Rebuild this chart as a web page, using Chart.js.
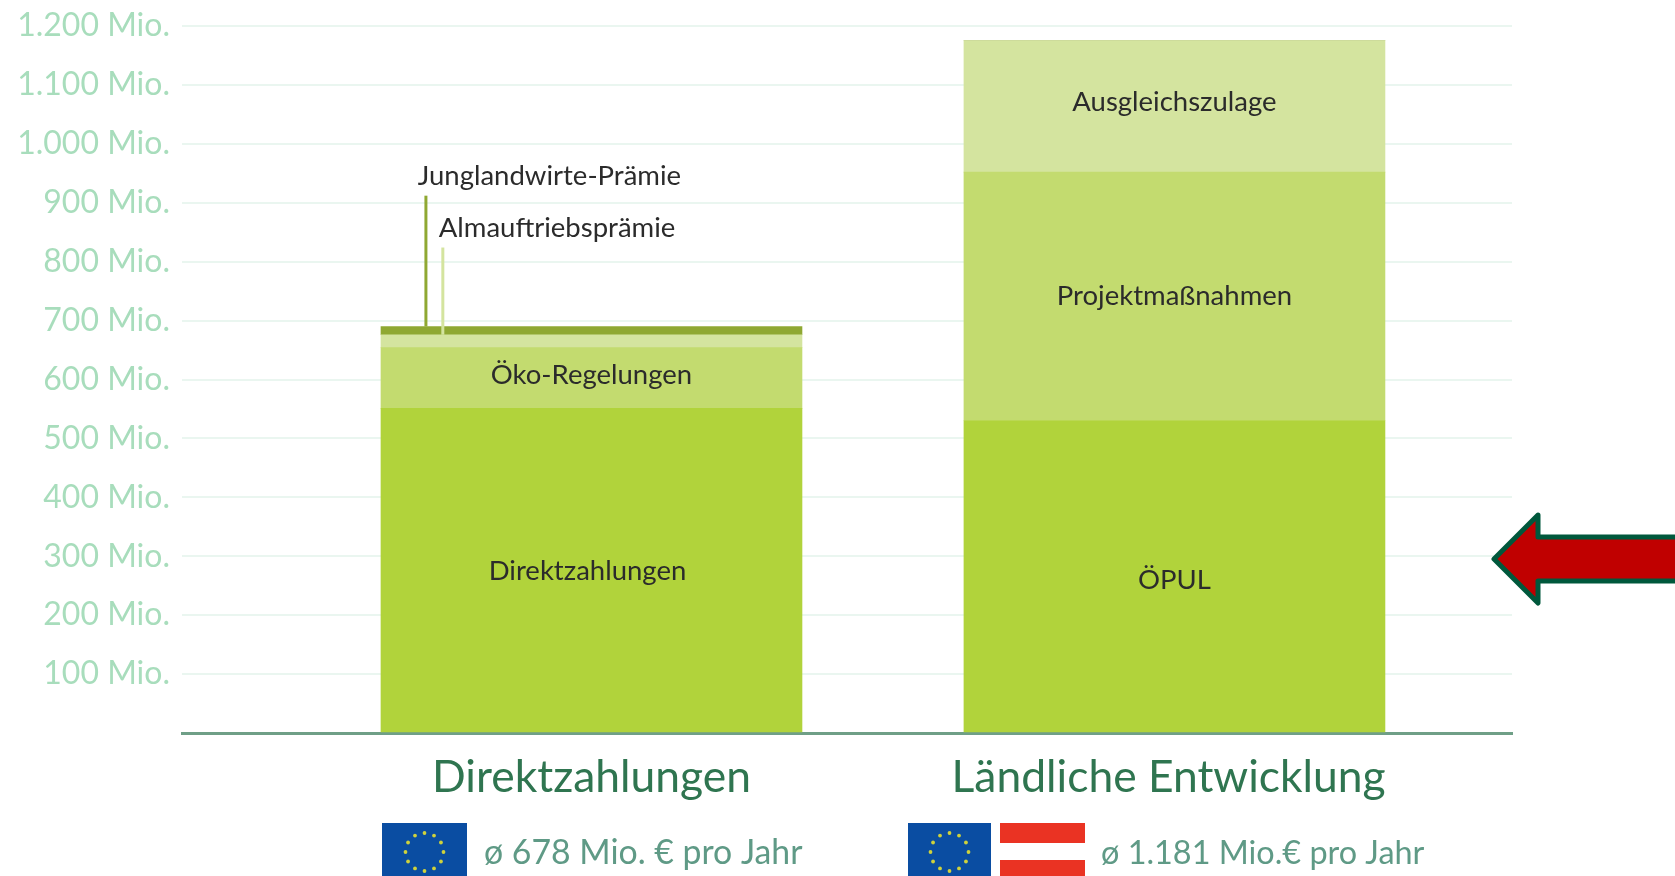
<!DOCTYPE html>
<html>
<head>
<meta charset="utf-8">
<script src="https://cdn.jsdelivr.net/npm/chart.js@4"></script>
<style>
html, body { margin: 0; padding: 0; background: #fff; overflow: hidden; }
canvas { display: block; }
</style>
</head>
<body>
<canvas id="chart" width="1675" height="876"></canvas>
<script>
// values in Mio. Euro
const categories = ["Direktzahlungen", "Ländliche Entwicklung"];
const baseValues = [551, 530];
const midValues = [103, 422];
const lightValues = [22, 223];
const darkValues = [14, 0];

const baseNames = ["Direktzahlungen", "ÖPUL"];
const midNames = ["Öko-Regelungen", "Projektmaßnahmen"];
const lightNames = ["", "Ausgleichszulage"];

const yTicks = [100, 200, 300, 400, 500, 600, 700, 800, 900, 1000, 1100, 1200];
const tickLabels = ["100 Mio.", "200 Mio.", "300 Mio.", "400 Mio.", "500 Mio.", "600 Mio.",
    "700 Mio.", "800 Mio.", "900 Mio.", "1.000 Mio.", "1.100 Mio.", "1.200 Mio."];
const averages = ["ø 678 Mio. € pro Jahr", "ø 1.181 Mio.€ pro Jahr"];

const FONT = "Lato";
const TEXT = "#2b2b2b";

// labels in the reference sit a little off the segment centres
const nudge = {
    "Direktzahlungen": [-4, 1],
    "ÖPUL": [0, 4],
    "Öko-Regelungen": [0, -3],
    "Ausgleichszulage": [0, -4]
};

function points(values) {
    return values.map((v, i) => ({ x: i + 1, y: v }));
}

function drawEuFlag(ctx, x, y, w, h) {
    ctx.fillStyle = "#0A4DA2";
    ctx.fillRect(x, y, w, h);
    ctx.fillStyle = "#CFD23C";
    const cx = x + w / 2, cy = y + 29;
    for (let i = 0; i < 12; i++) {
        let a = i * Math.PI / 6;
        ctx.beginPath();
        ctx.arc(cx + Math.cos(a) * 19, cy + Math.sin(a) * 19, 1.9, 0, Math.PI * 2);
        ctx.fill();
    }
}

const extras = {
    id: "extras",
    afterDatasetsDraw(chart) {
        const ctx = chart.ctx;
        const xs = chart.scales.x, ys = chart.scales.y;
        ctx.save();

        // labels inside the bars
        ctx.font = "27.5px " + FONT;
        ctx.fillStyle = TEXT;
        ctx.textAlign = "center";
        ctx.textBaseline = "middle";
        [baseNames, midNames, lightNames].forEach((names, d) => {
            chart.getDatasetMeta(d).data.forEach((bar, i) => {
                if (!names[i]) return;
                let n = nudge[names[i]] || [0, 0];
                ctx.fillText(names[i], bar.x + n[0], (bar.y + bar.base) / 2 + n[1]);
            });
        });

        // leader lines above the first bar
        const topDark = baseValues[0] + midValues[0] + lightValues[0] + darkValues[0];
        const topLight = baseValues[0] + midValues[0] + lightValues[0];
        ctx.lineWidth = 3;
        ctx.strokeStyle = "#8FA832";
        ctx.beginPath();
        ctx.moveTo(xs.getPixelForValue(0.716), ys.getPixelForValue(912));
        ctx.lineTo(xs.getPixelForValue(0.716), ys.getPixelForValue(topDark));
        ctx.stroke();
        ctx.strokeStyle = "#D4E49F";
        ctx.beginPath();
        ctx.moveTo(xs.getPixelForValue(0.745), ys.getPixelForValue(824));
        ctx.lineTo(xs.getPixelForValue(0.745), ys.getPixelForValue(topLight));
        ctx.stroke();

        ctx.textAlign = "left";
        ctx.fillStyle = TEXT;
        ctx.fillText("Junglandwirte-Prämie", xs.getPixelForValue(0.702), ys.getPixelForValue(946));
        ctx.fillText("Almauftriebsprämie", xs.getPixelForValue(0.738), ys.getPixelForValue(857));

        // flags and averages under the axis
        drawEuFlag(ctx, 382, 823, 85, 60);
        drawEuFlag(ctx, 908, 823, 83, 60);
        ctx.fillStyle = "#EA3323";
        ctx.fillRect(1000, 823, 85, 20);
        ctx.fillRect(1000, 860, 85, 20);
        ctx.fillStyle = "#5F9A86";
        ctx.textBaseline = "alphabetic";
        ctx.font = "33.8px " + FONT;
        ctx.fillText(averages[0], 484, 864);
        ctx.font = "32.4px " + FONT;
        ctx.fillText(averages[1], 1101, 864);

        // red arrow pointing at the axis
        ctx.beginPath();
        ctx.moveTo(1680, 537);
        ctx.lineTo(1538, 537);
        ctx.lineTo(1538, 515);
        ctx.lineTo(1494, 559);
        ctx.lineTo(1538, 603);
        ctx.lineTo(1538, 581);
        ctx.lineTo(1680, 581);
        ctx.closePath();
        ctx.fillStyle = "#C00000";
        ctx.fill();
        ctx.lineWidth = 5;
        ctx.lineJoin = "round";
        ctx.strokeStyle = "#00583C";
        ctx.stroke();
        ctx.restore();
    }
};

new Chart(document.getElementById("chart"), {
    type: "bar",
    data: {
        datasets: [
            { label: "Basis", data: points(baseValues), backgroundColor: "#B1D33B" },
            { label: "Mitte", data: points(midValues), backgroundColor: "#C3DB6F" },
            { label: "Hell", data: points(lightValues), backgroundColor: "#D4E49F" },
            { label: "Dunkel", data: points(darkValues), backgroundColor: "#8FA832" }
        ]
    },
    options: {
        responsive: false,
        animation: false,
        barThickness: 421,
        layout: { padding: { top: 26, right: 163, left: 0, bottom: 0 } },
        plugins: { legend: { display: false }, tooltip: { enabled: false } },
        scales: {
            x: {
                type: "linear",
                offset: false,
                stacked: true,
                min: 0.2976,
                max: 2.579,
                afterFit(scale) { scale.height = 143; },
                afterBuildTicks(scale) { scale.ticks = [{ value: 1 }, { value: 1.99 }]; },
                grid: { display: false, offset: false, drawTicks: false },
                border: { color: "#6F9F87", width: 3 },
                ticks: {
                    autoSkip: false,
                    maxRotation: 0,
                    padding: 18,
                    color: "#2F7550",
                    font: { family: FONT, size: 44.4 },
                    callback: (v, i) => categories[i]
                }
            },
            y: {
                stacked: true,
                min: 0,
                max: 1200,
                afterFit(scale) {
                    scale.width = 182;
                    scale.paddingTop = 0;
                    scale.paddingBottom = 0;
                },
                afterBuildTicks(scale) { scale.ticks = [0].concat(yTicks).map(v => ({ value: v })); },
                grid: { color: "#EAF6F0", lineWidth: 2, drawTicks: false },
                border: { display: false },
                ticks: {
                    padding: 12,
                    color: "#A8DDBC",
                    font: { family: FONT, size: 32 },
                    callback: v => v === 0 ? "" : tickLabels[yTicks.indexOf(v)]
                }
            }
        }
    },
    plugins: [extras]
});
</script>
</body>
</html>
